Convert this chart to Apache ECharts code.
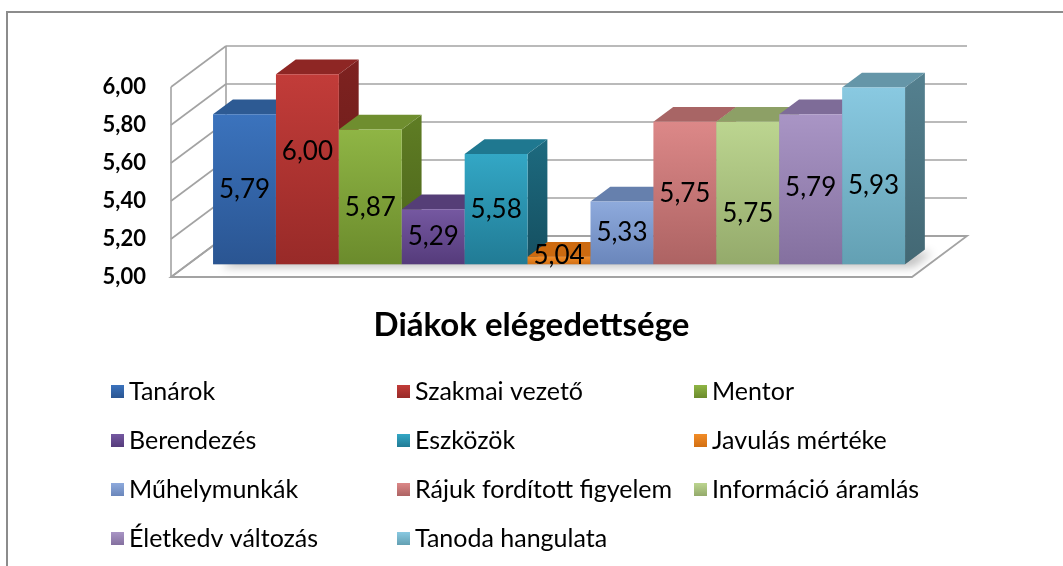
<!DOCTYPE html>
<html><head><meta charset="utf-8">
<script src="https://cdn.jsdelivr.net/npm/echarts/dist/echarts.min.js"></script>
<style>html,body{margin:0;padding:0;background:#fff}#c{width:1063px;height:566px}</style>
</head><body><div id="c"></div>
<script>
// ---- data ----
const categories = ['Tanárok','Szakmai vezető','Mentor','Berendezés','Eszközök','Javulás mértéke','Műhelymunkák','Rájuk fordított figyelem','Információ áramlás','Életkedv változás','Tanoda hangulata'];
const barValues = [5.79, 6.00, 5.71, 5.29, 5.58, 5.04, 5.33, 5.75, 5.75, 5.79, 5.93];
const labelTexts = ['5,79','6,00','5,87','5,29','5,58','5,04','5,33','5,75','5,75','5,79','5,93'];
const yTicks = [5.0, 5.2, 5.4, 5.6, 5.8, 6.0];
const chartTitle = 'Diákok elégedettsége';
const legendColumns = [
  ['Tanárok','Berendezés','Műhelymunkák','Életkedv változás'],
  ['Szakmai vezető','Eszközök','Rájuk fordított figyelem','Tanoda hangulata'],
  ['Mentor','Javulás mértéke','Információ áramlás']
];

// ---- style ----
const palette = [
  {f:['#3b73bd','#2a5592'], t:'#2d5a93', s:['#27508a','#1e3f6e']},
  {f:['#c23c39','#982a28'], t:'#8e2624', s:['#7e2220','#651a18']},
  {f:['#8fb545','#6b8b2c'], t:'#6f8e2f', s:['#5f7d24','#4b631a']},
  {f:['#7558a1','#553b7b'], t:'#553e77', s:['#4a3468','#3a2852']},
  {f:['#33a7c5','#217b95'], t:'#1f7890', s:['#1d6a7f','#154f60']},
  {f:['#f28c27','#d26f12'], t:'#cc6a10', s:['#b05a0c','#9a4e0a']},
  {f:['#8eaadc','#6a86bb'], t:'#6680ad', s:['#5e77a2','#4c6087']},
  {f:['#dc8888','#ad6363'], t:'#a86565', s:['#985858','#7f4747']},
  {f:['#bcd590','#94aa6b'], t:'#8da066', s:['#7f925a','#6a7a4a']},
  {f:['#a995c5','#84709f'], t:'#7e6c98', s:['#6f5f88','#5b4e71']},
  {f:['#89c9e1','#63a0b3'], t:'#6596a8', s:['#54808f','#436874']}
];
const labelNudge = [0,-18,11,0,0,-5,0,1,21,-2,10];
const D = [55, -41];      // full depth vector of the box
const t0 = 0.31, t1 = 0.67; // depth span of the bars
const FONT = 'Lato, Carlito, "Open Sans", sans-serif';
const G = echarts.graphic;

function vgrad(a, b){ return new G.LinearGradient(0,0,0,1,[{offset:0,color:a},{offset:1,color:b}]); }

function renderWalls(params, api){
  const cs = params.coordSys;
  const v = api.value(1);
  const p = api.coord([0, v]);
  const L = cs.x - 25, FR = cs.x + cs.width + 24;
  const y = p[1];
  const line = {stroke:'#a3a3a3', lineWidth:1.6, fill:null};
  const children = [];
  if (params.dataIndex === 0){
    const yb = y;
    children.push({type:'polygon', shape:{points:[[L,yb],[FR,yb],[FR+D[0],yb+D[1]],[L+D[0],yb+D[1]]]},
      style:{fill:'#ffffff', stroke:'#a3a3a3', lineWidth:1.8}});
    const x0 = cs.x + D[0]*t0, x1 = cs.x + cs.width + D[0]*t0;
    const fy = yb + D[1]*t0, ex = D[0]*(t1-t0), ey = D[1]*(t1-t0);
    children.push({type:'polygon', shape:{points:[[x0,fy],[x1,fy],[x1+ex,fy+ey],[x0+ex,fy+ey]]},
      style:{fill:'rgba(120,120,120,0.55)', shadowBlur:10, shadowColor:'rgba(0,0,0,0.45)', shadowOffsetX:8, shadowOffsetY:3}});
    const top = api.coord([0, yTicks[yTicks.length-1]])[1];
    children.push({type:'line', shape:{x1:L,y1:yb,x2:L,y2:top}, style:line});
    children.push({type:'line', shape:{x1:L+D[0],y1:yb+D[1],x2:L+D[0],y2:top+D[1]}, style:line});
  }
  children.push({type:'line', shape:{x1:L,y1:y,x2:L+D[0],y2:y+D[1]}, style:line});
  if (params.dataIndex !== 0)
    children.push({type:'line', shape:{x1:L+D[0],y1:y+D[1],x2:FR+D[0],y2:y+D[1]}, style:line});
  return {type:'group', children};
}

function makeBarRenderer(i){
  return function(params, api){
    const idx = api.value(0), v = api.value(1);
    const base = api.coord([idx, yTicks[0]]);
    const tp = api.coord([idx, v]);
    const w = api.size([1, 0])[0];
    const ox = D[0]*t0, oy = D[1]*t0, ex = D[0]*(t1-t0), ey = D[1]*(t1-t0);
    const fx0 = base[0] - w/2 + ox, fx1 = base[0] + w/2 + ox;
    const fyb = base[1] + oy, fyt = tp[1] + oy;
    const c = palette[i];
    return {type:'group', children:[
      {type:'polygon', shape:{points:[[fx1,fyt],[fx1+ex,fyt+ey],[fx1+ex,fyb+ey],[fx1,fyb]]}, style:{fill:vgrad(c.s[0],c.s[1])}},
      {type:'polygon', shape:{points:[[fx0,fyt],[fx1,fyt],[fx1+ex,fyt+ey],[fx0+ex,fyt+ey]]}, style:{fill:c.t}},
      {type:'rect', shape:{x:fx0, y:fyt, width:fx1-fx0, height:fyb-fyt}, style:{fill:vgrad(c.f[0],c.f[1])}},
      {type:'text', z2:100, style:{text:labelTexts[i], x:(fx0+fx1)/2, y:(fyt+fyb)/2 + labelNudge[i],
        align:'center', verticalAlign:'middle', fontSize:26, fontFamily:FONT, fill:'#000'}}
    ]};
  };
}

const series = [{
  type:'custom', name:'_walls', silent:true, clip:false,
  data: yTicks.map(v => [0, v]), encode:{x:0, y:1},
  renderItem: renderWalls, z:1
}];
categories.forEach((name, i) => {
  series.push({type:'custom', name, clip:false, silent:true,
    itemStyle:{color:palette[i].f[0]},
    data:[[i, barValues[i]]], encode:{x:0, y:1}, renderItem:makeBarRenderer(i), z:2});
});

const legendLefts = [106, 392, 689];
const legends = legendColumns.map((col, k) => ({
  orient:'vertical', left:legendLefts[k], top:374, itemGap:24, itemWidth:13, itemHeight:13,
  icon:'rect', selectedMode:false,
  textStyle:{fontSize:25, fontFamily:FONT, color:'#000', lineHeight:24},
  data: col.map(n => { const i = categories.indexOf(n); return {name:n, itemStyle:{color:vgrad(palette[i].f[0], palette[i].f[1])}}; })
}));

const chart = echarts.init(document.getElementById('c'), null, {renderer:'canvas'});
chart.setOption({
  animation:false,
  backgroundColor:'#ffffff',
  title:{text:chartTitle, left:'center', top:304, textStyle:{fontSize:33, fontWeight:'bold', fontFamily:FONT, color:'#000'}},
  grid:{left:196, top:87, width:692, height:190},
  xAxis:{type:'category', data:categories, axisLabel:{show:false}, axisLine:{show:false}, axisTick:{show:false}, splitLine:{show:false}},
  yAxis:{type:'value', min:yTicks[0], max:yTicks[yTicks.length-1], interval:0.2,
    axisLabel:{formatter:v => v.toFixed(2).replace('.', ','), fontSize:22, fontWeight:'bold', fontFamily:FONT, color:'#000', margin:50},
    axisLine:{show:false}, axisTick:{show:false}, splitLine:{show:false}},
  legend: legends,
  graphic:[{type:'rect', shape:{x:7, y:12, width:1070, height:580}, style:{fill:null, stroke:'#8c8c8c', lineWidth:2}, silent:true, z:-1}],
  series
});
</script>
</body></html>
